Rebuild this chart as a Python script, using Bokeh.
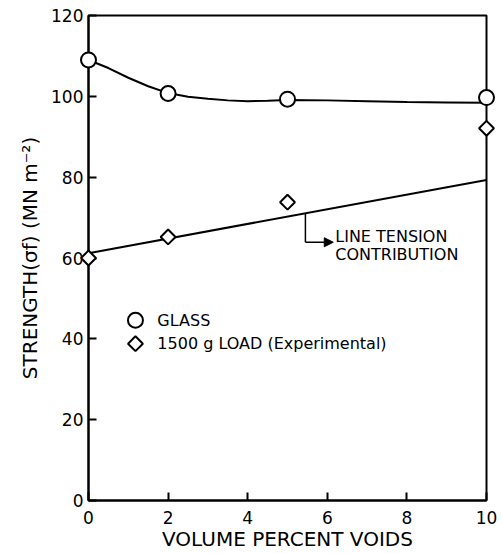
from bokeh.plotting import figure
from bokeh.models import Range1d, FixedTicker, Arrow, NormalHead, Label
from bokeh.core.properties import value
from bokeh.embed import file_html
from bokeh.resources import INLINE
import numpy as np

# ---- data ----
void_pct = [0, 2, 5, 10]
glass_strength = [109.0, 100.7, 99.3, 99.7]
load_strength = [60.0, 65.2, 73.8, 92.1]

glass_curve_x = [0, 0.5, 1, 1.5, 2, 2.5, 3, 3.5, 4, 4.5, 5, 6, 7, 8, 9, 10]
glass_curve_y = [109.0, 107.0, 104.6, 102.5, 100.8, 99.9, 99.4, 99.0, 98.8, 98.9, 99.1, 99.0, 98.8, 98.6, 98.5, 98.4]

tension_x = [0, 10]
tension_y = [61.2, 79.3]

leader_x = [5.45, 5.45]
leader_y = [70.9, 63.9]
arrow_end_x = 6.15

legend_labels = ["GLASS", "1500 g LOAD (Experimental)"]
legend_marker_x = [1.18, 1.18]
legend_marker_y = [44.6, 38.8]
legend_text_x = [1.73, 1.73]

x_ticks = [0, 2, 4, 6, 8, 10]
y_ticks = [0, 20, 40, 60, 80, 100, 120]

FONT = "DejaVu Sans"

p = figure(width=502, height=553, output_backend="svg", toolbar_location=None,
           x_range=Range1d(0, 10), y_range=Range1d(0, 120),
           min_border_left=88, min_border_right=16, min_border_top=15, min_border_bottom=53)

p.background_fill_color = "white"
p.border_fill_color = "white"
p.outline_line_color = "black"
p.outline_line_width = 2
p.grid.visible = False

for ax in (p.xaxis[0], p.yaxis[0]):
    ax.axis_line_width = 2
    ax.major_tick_line_width = 2
    ax.major_tick_in = 8
    ax.major_tick_out = 0
    ax.minor_tick_line_color = None
    ax.major_label_text_font = FONT
    ax.major_label_text_font_size = "17px"
    ax.major_label_text_color = "black"
    ax.axis_label_text_font = FONT
    ax.axis_label_text_font_style = "normal"
    ax.axis_label_text_font_size = "20px"
    ax.axis_label_text_color = "black"

p.xaxis.ticker = FixedTicker(ticks=x_ticks)
p.yaxis.ticker = FixedTicker(ticks=y_ticks)
p.xaxis.axis_label = "VOLUME PERCENT VOIDS"
p.yaxis.axis_label = "STRENGTH(σf) (MN m⁻²)"
p.xaxis.major_label_standoff = 10
p.yaxis.major_label_standoff = 5
p.xaxis.axis_label_standoff = 0
p.yaxis.axis_label_standoff = 6

# curves
p.line(glass_curve_x, glass_curve_y, line_color="black", line_width=2, level="overlay")
p.line(tension_x, tension_y, line_color="black", line_width=2, level="overlay")

p.scatter(void_pct, glass_strength, marker="circle", size=15,
          fill_color="white", line_color="black", line_width=2, level="overlay")
p.scatter(void_pct, load_strength, marker="square", angle=np.pi / 4, size=10.5,
          fill_color="white", line_color="black", line_width=2, level="overlay")

# annotation leader
p.line(leader_x, leader_y, line_color="black", line_width=1.5)
p.add_layout(Arrow(end=NormalHead(size=9, fill_color="black", line_color="black"),
                   x_start=leader_x[1], y_start=leader_y[1], x_end=arrow_end_x, y_end=leader_y[1],
                   line_color="black", line_width=1.5))
p.add_layout(Label(x=6.2, y=65.3, text="LINE TENSION", text_font=FONT, text_font_size="16px",
                   text_baseline="middle", text_align="left", text_color="black"))
p.add_layout(Label(x=6.2, y=60.9, text="CONTRIBUTION", text_font=FONT, text_font_size="16px",
                   text_baseline="middle", text_align="left", text_color="black"))

# legend (drawn as marks + text)
p.scatter(legend_marker_x[:1], legend_marker_y[:1], marker="circle", size=15,
          fill_color="white", line_color="black", line_width=2)
p.scatter(legend_marker_x[1:], legend_marker_y[1:], marker="square", angle=np.pi / 4, size=10.5,
          fill_color="white", line_color="black", line_width=2)
p.text(legend_text_x, legend_marker_y, text=legend_labels, text_font=value(FONT),
       text_font_size="16px", text_baseline="middle", text_align="left", text_color="black")

open("out.html", "w").write(file_html(p, INLINE))
